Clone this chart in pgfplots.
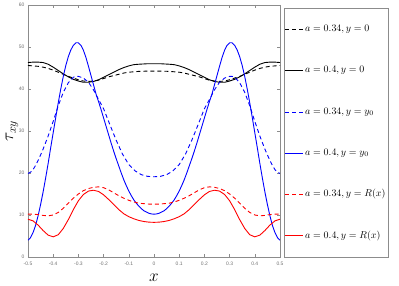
\documentclass[border=0pt]{standalone}
\usepackage{fontspec}
\usepackage{pgfplots}
\pgfplotsset{compat=1.18}
\newfontfamily\ticksf{Liberation Sans}
\definecolor{axgray}{gray}{0.55}
\begin{document}
\begin{tikzpicture}
\path[use as bounding box] (-28bp,-29bp) rectangle (371bp,257bp);
\begin{axis}[
  scale only axis,
  width=252bp, height=252bp,
  xmin=-0.5, xmax=0.5, ymin=0, ymax=60,
  xtick={-0.5,-0.4,...,0.5},
  ytick={0,10,...,60},
  tick align=inside,
  major tick length=3bp,
  axis line style={axgray, line width=0.6pt},
  every tick/.style={axgray, line width=0.4pt},
  /pgf/number format/assume math mode=true,
  /pgf/number format/fixed,
  /pgf/number format/precision=1,
  xticklabel style={font=\fontsize{5}{6}\selectfont\ticksf, text=axgray!80!black, yshift=-2bp},
  yticklabel style={font=\fontsize{5}{6}\selectfont\ticksf, text=axgray!80!black},
  xlabel={$x$},
  ylabel={$\tau_{xy}$},
  label style={font=\fontsize{18}{20}\selectfont},
  xlabel style={yshift=-1bp},
  ylabel style={yshift=-6bp},
  legend style={
    at={(1.0159,0)}, anchor=south west,
    draw=axgray, line width=0.5pt,
    inner xsep=1bp, inner ysep=16.5bp, outer sep=0pt,
    row sep=31.8bp,
    font=\normalsize,
    nodes={text height=7pt, text depth=2.5pt, inner xsep=1.3bp, inner ysep=0pt},
  },
  legend cell align=left,
  legend image code/.code={\draw[mark repeat=2,mark phase=2,#1] plot coordinates {(0bp,0bp) (9bp,0bp) (18bp,0bp)};},
]
% a=0.34, y=0 (black dashed)
\addplot[black, line width=0.9pt, dash pattern=on 4bp off 3bp] coordinates {
(-0.5,45.6)(-0.48,45.5)(-0.46,45.4)(-0.44,45.2)(-0.42,44.9)(-0.40,44.5)(-0.38,44.0)(-0.36,43.5)(-0.34,43.0)(-0.32,42.6)(-0.30,42.2)(-0.28,41.9)(-0.26,41.8)(-0.24,41.9)(-0.22,42.1)(-0.20,42.5)(-0.18,42.9)(-0.16,43.2)(-0.14,43.5)(-0.12,43.8)(-0.10,44.0)(-0.08,44.1)(-0.06,44.2)(-0.03,44.25)(0,44.25)
(0.03,44.25)(0.06,44.2)(0.08,44.1)(0.10,44.0)(0.12,43.8)(0.14,43.5)(0.16,43.2)(0.18,42.9)(0.20,42.5)(0.22,42.1)(0.24,41.9)(0.26,41.8)(0.28,41.9)(0.30,42.2)(0.32,42.6)(0.34,43.0)(0.36,43.5)(0.38,44.0)(0.40,44.5)(0.42,44.9)(0.44,45.2)(0.46,45.4)(0.48,45.5)(0.5,45.6)
};
\addlegendentry{$a=0.34, y=0$}
% a=0.4, y=0 (black solid)
\addplot[black, line width=0.9pt] coordinates {
(-0.5,46.3)(-0.48,46.4)(-0.46,46.4)(-0.44,46.3)(-0.42,45.9)(-0.40,45.2)(-0.38,44.4)(-0.36,43.6)(-0.34,42.9)(-0.32,42.3)(-0.30,41.9)(-0.28,41.6)(-0.26,41.6)(-0.24,41.8)(-0.22,42.2)(-0.20,42.8)(-0.18,43.4)(-0.16,44.0)(-0.14,44.6)(-0.12,45.1)(-0.10,45.5)(-0.08,45.8)(-0.06,45.9)(-0.03,46.0)(0,46.0)
(0.03,46.0)(0.06,45.9)(0.08,45.8)(0.10,45.5)(0.12,45.1)(0.14,44.6)(0.16,44.0)(0.18,43.4)(0.20,42.8)(0.22,42.2)(0.24,41.8)(0.26,41.6)(0.28,41.6)(0.30,41.9)(0.32,42.3)(0.34,42.9)(0.36,43.6)(0.38,44.4)(0.40,45.2)(0.42,45.9)(0.44,46.3)(0.46,46.4)(0.48,46.4)(0.5,46.3)
};
\addlegendentry{$a=0.4, y=0$}
% a=0.34, y=y0 (blue dashed)
\addplot[blue, line width=0.9pt, dash pattern=on 4bp off 3bp] coordinates {
(-0.5,19.9)(-0.49,20.2)(-0.48,20.8)(-0.47,21.8)(-0.46,23.0)(-0.45,24.3)(-0.44,25.7)(-0.42,28.8)(-0.40,32.3)(-0.38,36.0)(-0.36,39.2)(-0.34,41.5)(-0.32,42.8)(-0.31,43.0)(-0.30,43.0)(-0.28,42.6)(-0.26,41.6)(-0.24,39.8)(-0.22,37.5)(-0.20,35.3)(-0.175,31.5)(-0.15,27.8)(-0.125,24.5)(-0.10,22.0)(-0.075,20.5)(-0.05,19.6)(-0.025,19.2)(0,19.1)
(0.025,19.2)(0.05,19.6)(0.075,20.5)(0.10,22.0)(0.125,24.5)(0.15,27.8)(0.175,31.5)(0.20,35.3)(0.22,37.5)(0.24,39.8)(0.26,41.6)(0.28,42.6)(0.30,43.0)(0.31,43.0)(0.32,42.8)(0.34,41.5)(0.36,39.2)(0.38,36.0)(0.40,32.3)(0.42,28.8)(0.44,25.7)(0.45,24.3)(0.46,23.0)(0.47,21.8)(0.48,20.8)(0.49,20.2)(0.5,19.9)
};
\addlegendentry{$a=0.34, y=y_0$}
% a=0.4, y=y0 (blue solid)
\addplot[blue, line width=0.9pt] coordinates {
(-0.5,4.0)(-0.49,4.6)(-0.48,5.8)(-0.47,7.5)(-0.46,9.8)(-0.45,12.5)(-0.44,15.5)(-0.43,18.8)(-0.42,22.3)(-0.41,26.0)(-0.40,29.6)(-0.39,33.2)(-0.38,36.7)(-0.37,40.0)(-0.36,43.0)(-0.35,45.6)(-0.34,47.7)(-0.33,49.3)(-0.32,50.4)(-0.31,51.0)(-0.30,51.0)(-0.29,50.4)(-0.28,49.2)(-0.27,47.5)(-0.26,45.4)(-0.25,43.2)(-0.24,41.0)(-0.23,38.8)(-0.22,37.0)(-0.21,35.1)(-0.20,33.1)(-0.19,31.1)(-0.18,29.1)(-0.17,27.1)(-0.16,25.2)(-0.15,23.4)(-0.14,21.7)(-0.13,20.0)(-0.12,18.4)(-0.11,17.0)(-0.10,15.7)(-0.09,14.6)(-0.08,13.6)(-0.07,12.8)(-0.06,12.1)(-0.05,11.5)(-0.04,11.0)(-0.03,10.7)(-0.02,10.4)(-0.01,10.25)(0,10.2)
(0.01,10.25)(0.02,10.4)(0.03,10.7)(0.04,11.0)(0.05,11.5)(0.06,12.1)(0.07,12.8)(0.08,13.6)(0.09,14.6)(0.10,15.7)(0.11,17.0)(0.12,18.4)(0.13,20.0)(0.14,21.7)(0.15,23.4)(0.16,25.2)(0.17,27.1)(0.18,29.1)(0.19,31.1)(0.20,33.1)(0.21,35.1)(0.22,37.0)(0.23,38.8)(0.24,41.0)(0.25,43.2)(0.26,45.4)(0.27,47.5)(0.28,49.2)(0.29,50.4)(0.30,51.0)(0.31,51.0)(0.32,50.4)(0.33,49.3)(0.34,47.7)(0.35,45.6)(0.36,43.0)(0.37,40.0)(0.38,36.7)(0.39,33.2)(0.40,29.6)(0.41,26.0)(0.42,22.3)(0.43,18.8)(0.44,15.5)(0.45,12.5)(0.46,9.8)(0.47,7.5)(0.48,5.8)(0.49,4.6)(0.5,4.0)
};
\addlegendentry{$a=0.4, y=y_0$}
% a=0.34, y=R(x) (red dashed)
\addplot[red, line width=0.9pt, dash pattern=on 4bp off 3bp] coordinates {
(-0.5,10.2)(-0.48,10.2)(-0.46,10.1)(-0.44,9.9)(-0.42,9.8)(-0.40,10.0)(-0.38,10.6)(-0.36,11.6)(-0.34,12.8)(-0.32,14.0)(-0.30,15.0)(-0.28,15.8)(-0.26,16.3)(-0.24,16.6)(-0.22,16.7)(-0.20,16.5)(-0.18,16.0)(-0.16,15.3)(-0.14,14.6)(-0.12,14.0)(-0.10,13.5)(-0.08,13.1)(-0.06,12.8)(-0.04,12.7)(-0.02,12.6)(0,12.6)
(0.02,12.6)(0.04,12.7)(0.06,12.8)(0.08,13.1)(0.10,13.5)(0.12,14.0)(0.14,14.6)(0.16,15.3)(0.18,16.0)(0.20,16.5)(0.22,16.7)(0.24,16.6)(0.26,16.3)(0.28,15.8)(0.30,15.0)(0.32,14.0)(0.34,12.8)(0.36,11.6)(0.38,10.6)(0.40,10.0)(0.42,9.8)(0.44,9.9)(0.46,10.1)(0.48,10.2)(0.5,10.2)
};
\addlegendentry{$a=0.34, y=R(x)$}
% a=0.4, y=R(x) (red solid)
\addplot[red, line width=0.9pt] coordinates {
(-0.5,9.0)(-0.48,8.6)(-0.46,7.6)(-0.44,6.3)(-0.42,5.2)(-0.40,4.8)(-0.38,5.3)(-0.36,6.8)(-0.34,8.9)(-0.32,11.3)(-0.30,13.4)(-0.28,14.9)(-0.26,15.7)(-0.24,15.9)(-0.22,15.6)(-0.20,14.8)(-0.18,13.7)(-0.16,12.5)(-0.14,11.3)(-0.12,10.3)(-0.10,9.6)(-0.08,9.1)(-0.06,8.7)(-0.04,8.45)(-0.02,8.3)(0,8.25)
(0.02,8.3)(0.04,8.45)(0.06,8.7)(0.08,9.1)(0.10,9.6)(0.12,10.3)(0.14,11.3)(0.16,12.5)(0.18,13.7)(0.20,14.8)(0.22,15.6)(0.24,15.9)(0.26,15.7)(0.28,14.9)(0.30,13.4)(0.32,11.3)(0.34,8.9)(0.36,6.8)(0.38,5.3)(0.40,4.8)(0.42,5.2)(0.44,6.3)(0.46,7.6)(0.48,8.6)(0.5,9.0)
};
\addlegendentry{$a=0.4, y=R(x)$}
\end{axis}
\end{tikzpicture}
\end{document}
